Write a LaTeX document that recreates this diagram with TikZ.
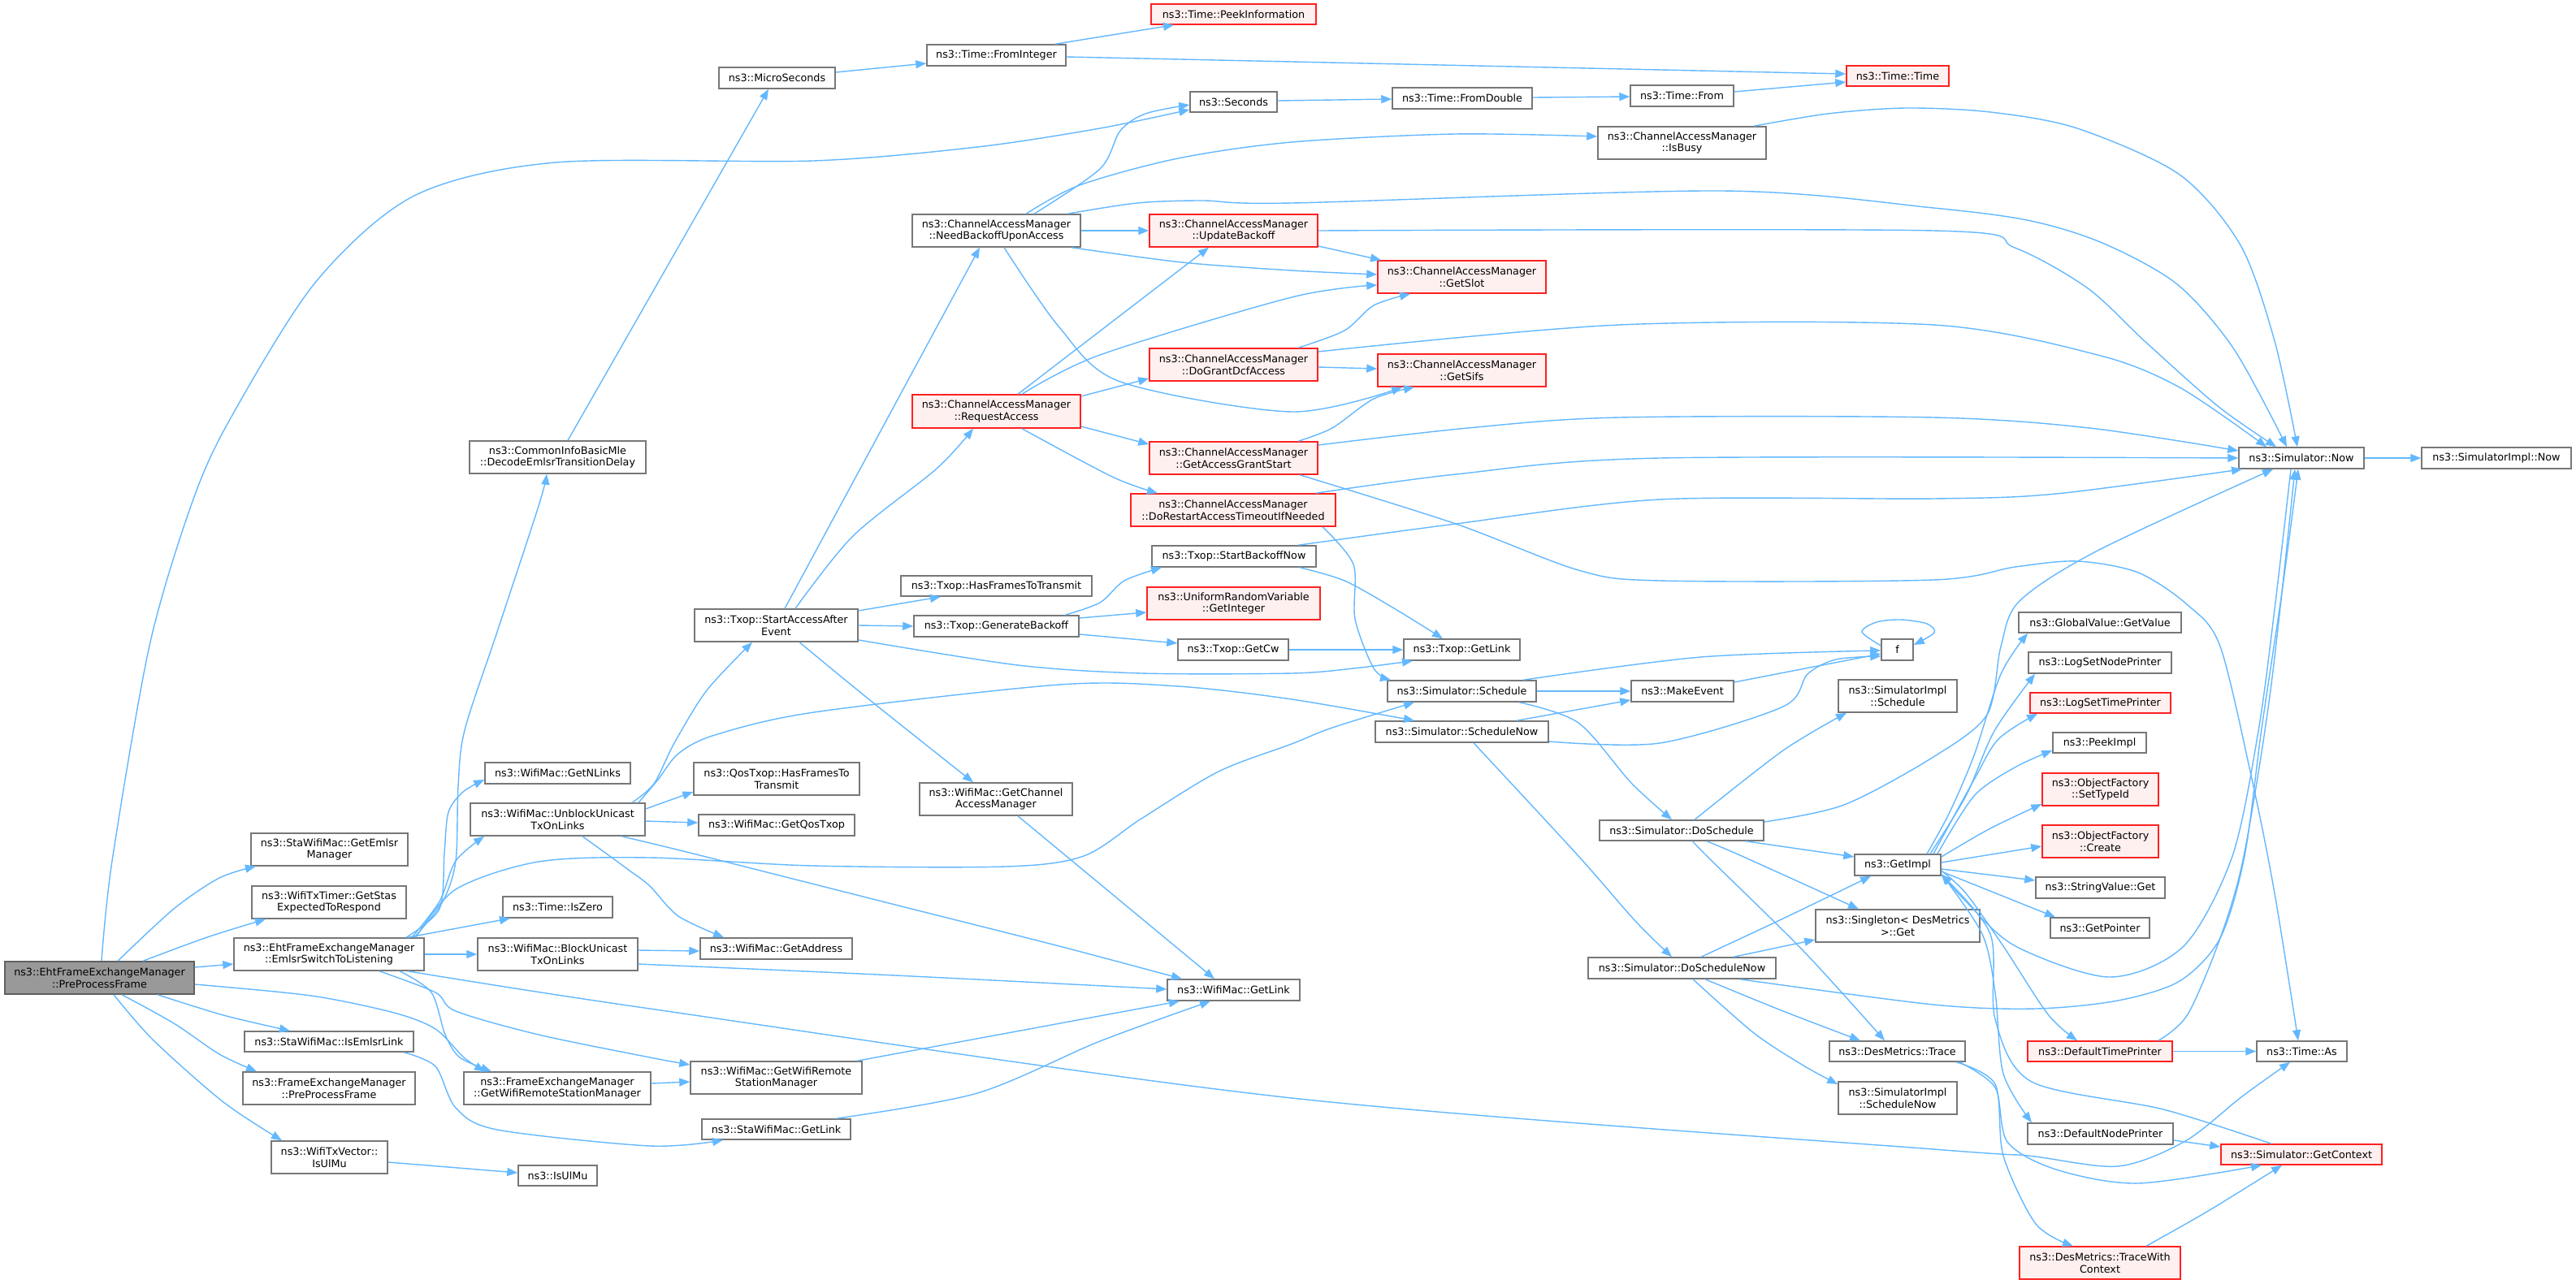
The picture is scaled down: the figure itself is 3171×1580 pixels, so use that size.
\documentclass[tikz,border=0pt]{standalone}
\usepackage{fontspec}
\setmainfont{DejaVu Sans}
\usetikzlibrary{arrows.meta}
\definecolor{edgec}{HTML}{63B8FF}
\definecolor{nodeborder}{HTML}{777777}
\definecolor{redborder}{HTML}{FF2020}
\definecolor{redfill}{HTML}{FFF0F0}
\definecolor{grayfill}{HTML}{999999}
\newcommand\ndbox[7]{%
  \pgfmathsetmacro\ndcx{(#3+#4)/2}%
  \pgfmathsetmacro\ndcy{(#5+#6)/2}%
  \pgfmathsetmacro\ndw{#4-#3}%
  \pgfmathsetmacro\ndh{#6-#5}%
  \node[#2, minimum width=\ndw pt, minimum height=\ndh pt] (#1) at (\ndcx,\ndcy) {#7};%
}
\tikzset{
  nbase/.style={draw=nodeborder, line width=1.5pt, fill=white, inner sep=0pt, align=center,
    font=\fontsize{12.75}{14.8}\selectfont, text=black},
  wn/.style={nbase},
  rn/.style={nbase, draw=redborder, fill=redfill},
  gn/.style={nbase, fill=grayfill, draw=nodeborder!80!black},
  cn/.style={draw=edgec, line width=1.4pt, -{Triangle[length=13pt,width=10pt]}},
}
\begin{document}
\begin{tikzpicture}[x=1pt,y=-1pt]
\fill[white] (0,0) rectangle (3171,1580);
\useasboundingbox (0,0) rectangle (3171,1580);

% ---------- nodes ----------
\ndbox{ppf}{gn}{6}{239}{1184}{1224}{ns3::EhtFrameExchangeManager\\::PreProcessFrame}
\ndbox{gem}{wn}{309}{502}{1026}{1066}{ns3::StaWifiMac::GetEmlsr\\Manager}
\ndbox{gstas}{wn}{310}{500}{1091}{1131}{ns3::WifiTxTimer::GetStas\\ExpectedToRespond}
\ndbox{estl}{wn}{288}{522}{1155}{1195}{ns3::EhtFrameExchangeManager\\::EmlsrSwitchToListening}
\ndbox{iel}{wn}{301}{509}{1270}{1295}{ns3::StaWifiMac::IsEmlsrLink}
\ndbox{fppf}{wn}{299}{511}{1320}{1360}{ns3::FrameExchangeManager\\::PreProcessFrame}
\ndbox{txv}{wn}{334}{477}{1405}{1445}{ns3::WifiTxVector::\\IsUlMu}
\ndbox{isulmu}{wn}{638}{735}{1435}{1460}{ns3::IsUlMu}
\ndbox{dec}{wn}{578}{795}{543}{583}{ns3::CommonInfoBasicMle\\::DecodeEmlsrTransitionDelay}
\ndbox{gnl}{wn}{597}{776}{939}{965}{ns3::WifiMac::GetNLinks}
\ndbox{ubl}{wn}{579}{794}{989}{1029}{ns3::WifiMac::UnblockUnicast\\TxOnLinks}
\ndbox{isz}{wn}{619}{754}{1104}{1130}{ns3::Time::IsZero}
\ndbox{bl}{wn}{588}{785}{1155}{1195}{ns3::WifiMac::BlockUnicast\\TxOnLinks}
\ndbox{fgw}{wn}{571}{801}{1320}{1360}{ns3::FrameExchangeManager\\::GetWifiRemoteStationManager}
\ndbox{mic}{wn}{885}{1028}{83}{109}{ns3::MicroSeconds}
\ndbox{saae}{wn}{855}{1056}{750}{790}{ns3::Txop::StartAccessAfter\\Event}
\ndbox{qhf}{wn}{854}{1058}{939}{979}{ns3::QosTxop::HasFramesTo\\Transmit}
\ndbox{gqt}{wn}{860}{1052}{1003}{1029}{ns3::WifiMac::GetQosTxop}
\ndbox{gaddr}{wn}{862}{1049}{1155}{1181}{ns3::WifiMac::GetAddress}
\ndbox{wgw}{wn}{850}{1061}{1307}{1347}{ns3::WifiMac::GetWifiRemote\\StationManager}
\ndbox{sgl}{wn}{864}{1047}{1378}{1403}{ns3::StaWifiMac::GetLink}
\ndbox{fint}{wn}{1141}{1312}{55}{81}{ns3::Time::FromInteger}
\ndbox{nbua}{wn}{1123}{1330}{264}{304}{ns3::ChannelAccessManager\\::NeedBackoffUponAccess}
\ndbox{ra}{rn}{1123}{1330}{486}{527}{ns3::ChannelAccessManager\\::RequestAccess}
\ndbox{hft}{wn}{1109}{1344}{709}{734}{ns3::Txop::HasFramesToTransmit}
\ndbox{gb}{wn}{1125}{1328}{758}{784}{ns3::Txop::GenerateBackoff}
\ndbox{gcam}{wn}{1132}{1320}{964}{1004}{ns3::WifiMac::GetChannel\\AccessManager}
\ndbox{peek}{rn}{1417}{1620}{5}{30}{ns3::Time::PeekInformation}
\ndbox{sec}{wn}{1465}{1572}{113}{138}{ns3::Seconds}
\ndbox{ub}{rn}{1415}{1622}{264}{304}{ns3::ChannelAccessManager\\::UpdateBackoff}
\ndbox{dg}{rn}{1415}{1622}{429}{469}{ns3::ChannelAccessManager\\::DoGrantDcfAccess}
\ndbox{gags}{rn}{1415}{1622}{544}{584}{ns3::ChannelAccessManager\\::GetAccessGrantStart}
\ndbox{dr}{rn}{1392}{1644}{608}{648}{ns3::ChannelAccessManager\\::DoRestartAccessTimeoutIfNeeded}
\ndbox{sbn}{wn}{1418}{1620}{672}{698}{ns3::Txop::StartBackoffNow}
\ndbox{urv}{rn}{1412}{1625}{723}{763}{ns3::UniformRandomVariable\\::GetInteger}
\ndbox{gcw}{wn}{1450}{1586}{787}{813}{ns3::Txop::GetCw}
\ndbox{wgl}{wn}{1437}{1600}{1206}{1232}{ns3::WifiMac::GetLink}
\ndbox{fdbl}{wn}{1714}{1886}{108}{134}{ns3::Time::FromDouble}
\ndbox{gslot}{rn}{1696}{1903}{321}{361}{ns3::ChannelAccessManager\\::GetSlot}
\ndbox{gsifs}{rn}{1696}{1903}{436}{476}{ns3::ChannelAccessManager\\::GetSifs}
\ndbox{tgl}{wn}{1728}{1871}{787}{813}{ns3::Txop::GetLink}
\ndbox{ss}{wn}{1708}{1891}{838}{864}{ns3::Simulator::Schedule}
\ndbox{ssn}{wn}{1693}{1906}{888}{914}{ns3::Simulator::ScheduleNow}
\ndbox{tfrom}{wn}{2007}{2134}{105}{131}{ns3::Time::From}
\ndbox{busy}{wn}{1967}{2174}{156}{196}{ns3::ChannelAccessManager\\::IsBusy}
\ndbox{mke}{wn}{2008}{2134}{838}{864}{ns3::MakeEvent}
\ndbox{dsch}{wn}{1969}{2171}{1010}{1035}{ns3::Simulator::DoSchedule}
\ndbox{dsn}{wn}{1955}{2186}{1179}{1205}{ns3::Simulator::DoScheduleNow}
\ndbox{ttime}{rn}{2273}{2399}{81}{106}{ns3::Time::Time}
\ndbox{f}{wn}{2316}{2355}{787}{813}{f}
\ndbox{sis}{wn}{2263}{2409}{837}{877}{ns3::SimulatorImpl\\::Schedule}
\ndbox{gimpl}{wn}{2283}{2389}{1052}{1078}{ns3::GetImpl}
\ndbox{sing}{wn}{2235}{2437}{1120}{1160}{ns3::Singleton< DesMetrics\\ >::Get}
\ndbox{trace}{wn}{2252}{2419}{1282}{1307}{ns3::DesMetrics::Trace}
\ndbox{sisn}{wn}{2263}{2409}{1332}{1372}{ns3::SimulatorImpl\\::ScheduleNow}
\ndbox{ggv}{wn}{2485}{2685}{754}{779}{ns3::GlobalValue::GetValue}
\ndbox{lnp}{wn}{2497}{2673}{803}{829}{ns3::LogSetNodePrinter}
\ndbox{ltp}{rn}{2499}{2672}{853}{878}{ns3::LogSetTimePrinter}
\ndbox{pimpl}{wn}{2527}{2642}{902}{927}{ns3::PeekImpl}
\ndbox{oft}{rn}{2514}{2657}{952}{992}{ns3::ObjectFactory\\::SetTypeId}
\ndbox{ofc}{rn}{2514}{2657}{1016}{1056}{ns3::ObjectFactory\\::Create}
\ndbox{sv}{wn}{2506}{2665}{1080}{1106}{ns3::StringValue::Get}
\ndbox{gp}{wn}{2524}{2646}{1130}{1155}{ns3::GetPointer}
\ndbox{dtp}{rn}{2496}{2674}{1282}{1307}{ns3::DefaultTimePrinter}
\ndbox{dnp}{wn}{2496}{2675}{1383}{1409}{ns3::DefaultNodePrinter}
\ndbox{tdc}{rn}{2486}{2684}{1535}{1575}{ns3::DesMetrics::TraceWith\\Context}
\ndbox{now}{wn}{2756}{2910}{551}{577}{ns3::Simulator::Now}
\ndbox{tas}{wn}{2778}{2889}{1282}{1307}{ns3::Time::As}
\ndbox{gctx}{rn}{2734}{2932}{1409}{1434}{ns3::Simulator::GetContext}
\ndbox{simpln}{wn}{2981}{3165}{551}{577}{ns3::SimulatorImpl::Now}

% ---------- edges ----------
% from PreProcessFrame
\draw[cn] plot[smooth] coordinates {(ppf.north -| 125,0) (138,1060) (184,795) (235,623) (281,520) (388,348) (510,241) (684,200) (1001,198) (1203,181) (1354,158) (sec.west |- 0,135)};
\draw[cn] plot[smooth] coordinates {(ppf.north -| 145,0) (214,1119) (270,1081) (gem.south -| 315,0)};
\draw[cn] plot[smooth] coordinates {(ppf.north -| 176,0) (255,1154) (gstas.south -| 327,0)};
\draw[cn] (ppf.east |- 0,1191) -- (estl.west |- 0,1187);
\draw[cn] plot[smooth] coordinates {(ppf.south -| 194,0) (275,1250) (iel.north -| 357,0)};
\draw[cn] plot[smooth] coordinates {(ppf.south -| 150,0) (214,1260) (270,1298) (fppf.north -| 316,0)};
\draw[cn] plot[smooth] coordinates {(ppf.south -| 140,0) (189,1281) (275,1357) (txv.north -| 347,0)};
\draw[cn] plot[smooth] coordinates {(ppf.east |- 0,1212) (383,1226) (485,1247) (536,1267) (571,1302) (fgw.north -| 597,0)};

% from EmlsrSwitchToListening
\draw[cn] plot[smooth] coordinates {(estl.south -| 492,0) (531,1222) (548,1274) (566,1302) (fgw.north -| 605,0)};
\draw[cn] (estl.east) -- (bl.west);
\draw[cn] (estl.north -| 502,0) -- (isz.south -| 628,0);
\draw[cn] plot[smooth] coordinates {(estl.north -| 500,0) (541,1119) (547,1050) (552,1000) (570,975) (gnl.west |- 0,960)};
\draw[cn] plot[smooth] coordinates {(estl.north -| 507,0) (541,1110) (561,1060) (ubl.south -| 596,0)};
\draw[cn] plot[smooth] coordinates {(estl.north -| 510,0) (545,1110) (561,1060) (564,968) (572,899) (612,778) (663,623) (dec.south -| 673,0)};
\draw[cn] plot[smooth] coordinates {(estl.north -| 512,0) (561,1095) (663,1061) (800,1056) (1000,1066) (1238,1067) (1334,1054) (1405,1008) (1500,950) (1590,916) (1640,896) (ss.south -| 1741,0)};
\draw[cn] plot[smooth] coordinates {(estl.south -| 467,0) (536,1222) (561,1245) (663,1274) (800,1302) (wgw.west |- 0,1311)};
\draw[cn] plot[smooth] coordinates {(estl.south -| 502,0) (800,1242) (1590,1352) (2380,1415) (2496,1423) (2607,1436) (2690,1405) (2760,1350) (tas.south -| 2819,0)};

% IsEmlsrLink, TxVector
\draw[cn] plot[smooth] coordinates {(iel.south -| 497,0) (536,1313) (561,1364) (612,1391) (800,1411) (sgl.south -| 890,0)};
\draw[cn] (txv.east |- 0,1431) -- (isulmu.west |- 0,1444);

% UnblockUnicastTxOnLinks
\draw[cn] plot[smooth] coordinates {(ubl.north -| 778,0) (805,965) (830,915) (870,850) (saae.south -| 926,0)};
\draw[cn] plot[smooth] coordinates {(ubl.north -| 786,0) (810,960) (835,928) (880,905) (1002,877) (1304,843) (1450,845) (1590,861) (ssn.north -| 1741,0)};
\draw[cn] (ubl.east |- 0,996) -- (qhf.west |- 0,975);
\draw[cn] (ubl.east |- 0,1011) -- (gqt.west |- 0,1013);
\draw[cn] plot[smooth] coordinates {(ubl.south -| 717,0) (745,1050) (775,1072) (800,1091) (835,1128) (gaddr.north -| 891,0)};
\draw[cn] plot[smooth] coordinates {(ubl.south -| 765,0) (800,1038) (865,1054) (1102,1114) (1304,1165) (wgl.north -| 1455,0)};

% BlockUnicastTxOnLinks, remote station managers, GetLink
\draw[cn] (bl.east |- 0,1170) -- (gaddr.west |- 0,1171);
\draw[cn] plot[smooth] coordinates {(bl.east |- 0,1187) (1102,1201) (wgl.west |- 0,1218)};
\draw[cn] (fgw.east |- 0,1334) -- (wgw.west |- 0,1332);
\draw[cn] (wgw.north -| 1055,0) -- (wgl.south -| 1452,0);
\draw[cn] plot[smooth] coordinates {(sgl.north -| 1029,0) (1203,1346) (1354,1282) (wgl.south -| 1490,0)};
\draw[cn] (gcam.south -| 1253,0) -- (wgl.north -| 1495,0);

% StartAccessAfterEvent
\draw[cn] (saae.north -| 966,0) -- (nbua.south -| 1206,0);
\draw[cn] plot[smooth] coordinates {(saae.north -| 979,0) (1050,660) (1153,577) (ra.south -| 1198,0)};
\draw[cn] (saae.east |- 0,752) -- (hft.south -| 1158,0);
\draw[cn] (saae.east) -- (gb.west);
\draw[cn] plot[smooth] coordinates {(saae.south -| 984,0) (1072,863) (gcam.north -| 1198,0)};
\draw[cn] plot[smooth] coordinates {(saae.east |- 0,788) (1253,819) (1405,829) (1590,829) (1666,823) (tgl.south -| 1739,0)};

% GenerateBackoff, StartBackoffNow, GetCw
\draw[cn] plot[smooth] coordinates {(gb.north -| 1311,0) (1354,742) (1384,715) (sbn.south -| 1430,0)};
\draw[cn] (gb.east |- 0,761) -- (urv.west |- 0,754);
\draw[cn] (gb.east |- 0,781) -- (gcw.west |- 0,792);
\draw[cn] plot[smooth] coordinates {(sbn.south -| 1600,0) (1655,715) (1716,749) (tgl.north -| 1776,0)};
\draw[cn] plot[smooth] coordinates {(sbn.north -| 1598,0) (1792,645) (2043,615) (2380,614) (2531,608) (now.south -| 2760,0)};
\draw[cn] (gcw.east) -- (tgl.west);

% NeedBackoffUponAccess
\draw[cn] (nbua.east) -- (ub.west);
\draw[cn] plot[smooth] coordinates {(nbua.north -| 1273,0) (1354,208) (1379,161) (1410,140) (sec.west |- 0,129)};
\draw[cn] plot[smooth] coordinates {(nbua.north -| 1263,0) (1329,228) (1450,195) (1590,175) (1791,165) (busy.west |- 0,168)};
\draw[cn] plot[smooth] coordinates {(nbua.north -| 1314,0) (1400,250) (1480,247) (1590,250) (2119,235) (2380,256) (2500,272) (2590,300) (2680,350) (2750,430) (now.north -| 2815,0)};
\draw[cn] plot[smooth] coordinates {(nbua.south -| 1319,0) (1455,323) (1590,333) (gslot.west |- 0,338)};
\draw[cn] plot[smooth] coordinates {(nbua.south -| 1236,0) (1304,403) (1379,470) (1590,507) (gsifs.south -| 1726,0)};

% RequestAccess
\draw[cn] (ra.north -| 1253,0) -- (ub.south -| 1488,0);
\draw[cn] plot[smooth] coordinates {(ra.north -| 1258,0) (1354,437) (1590,366) (gslot.west |- 0,351)};
\draw[cn] (ra.east |- 0,488) -- (dg.west |- 0,466);
\draw[cn] (ra.east |- 0,525) -- (gags.west |- 0,547);
\draw[cn] plot[smooth] coordinates {(ra.south -| 1258,0) (1369,587) (dr.north -| 1425,0)};

% UpdateBackoff, DoGrantDcfAccess
\draw[cn] (ub.east |- 0,303) -- (gslot.north -| 1700,0);
\draw[cn] plot[smooth] coordinates {(ub.east) (2380,284) (2480,305) (2570,355) (2640,420) (2730,500) (now.north -| 2802,0)};
\draw[cn] (dg.east |- 0,452) -- (gsifs.west |- 0,454);
\draw[cn] plot[smooth] coordinates {(dg.north -| 1598,0) (1655,407) (1691,376) (gslot.south -| 1736,0)};
\draw[cn] plot[smooth] coordinates {(dg.east |- 0,433) (1993,400) (2380,400) (2582,437) (2683,477) (now.north -| 2790,0)};

% GetAccessGrantStart, DoRestartAccessTimeoutIfNeeded, IsBusy
\draw[cn] plot[smooth] coordinates {(gags.north -| 1598,0) (1640,527) (1691,491) (gsifs.south -| 1741,0)};
\draw[cn] plot[smooth] coordinates {(gags.east |- 0,548) (1807,527) (1993,514) (2380,514) (2572,527) (now.west |- 0,555)};
\draw[cn] plot[smooth] coordinates {(gags.south -| 1600,0) (1792,645) (1943,702) (2043,715) (2380,714) (2481,698) (2557,691) (2632,705) (2693,745) (2733,796) (2773,964) (2800,1100) (tas.north -| 2829,0)};
\draw[cn] plot[smooth] coordinates {(dr.north -| 1620,0) (1792,584) (2043,564) (now.west)};
\draw[cn] plot[smooth] coordinates {(dr.south -| 1628,0) (1666,695) (1668,762) (1691,823) (ss.north -| 1712,0)};
\draw[cn] plot[smooth] coordinates {(busy.north -| 2159,0) (2250,140) (2346,133) (2450,138) (2557,158) (2683,215) (2758,302) (2800,420) (now.north -| 2828,0)};

% Schedule, ScheduleNow, MakeEvent, f
\draw[cn] (ss.east) -- (mke.west);
\draw[cn] plot[smooth] coordinates {(ss.north -| 1875,0) (2094,809) (f.west |- 0,801)};
\draw[cn] (mke.east |- 0,840) -- (f.west |- 0,805);
\draw[cn] plot[smooth] coordinates {(ssn.east |- 0,913) (2043,915) (2195,870) (2225,830) (2260,812) (f.west |- 0,808)};
\draw[cn] plot[smooth] coordinates {(ss.south -| 1870,0) (1943,890) (2008,964) (dsch.north -| 2058,0)};
\draw[cn] (ssn.north -| 1867,0) -- (mke.west |- 0,862);
\draw[cn] plot[smooth] coordinates {(ssn.south -| 1814,0) (1943,1054) (2013,1134) (dsn.north -| 2058,0)};
\draw[cn] plot[smooth] coordinates {(f.west |- 0,795) (2292,778) (2310,766) (2340,763) (2372,768) (2381,779) (f.east |- 0,794)};

% DoSchedule
\draw[cn] plot[smooth] coordinates {(dsch.north -| 2086,0) (2195,924) (sis.south -| 2273,0)};
\draw[cn] (dsch.south -| 2149,0) -- (gimpl.west |- 0,1055);
\draw[cn] plot[smooth] coordinates {(dsch.east |- 0,1012) (2270,991) (2380,932) (2446,880) (2463,796) (2486,740) (2582,678) (now.south -| 2798,0)};
\draw[cn] plot[smooth] coordinates {(dsch.south -| 2101,0) (2144,1054) (sing.north -| 2288,0)};
\draw[cn] plot[smooth] coordinates {(dsch.south -| 2084,0) (2101,1054) (2220,1171) (trace.north -| 2320,0)};

% DoScheduleNow
\draw[cn] plot[smooth] coordinates {(dsn.north -| 2094,0) (2195,1131) (gimpl.south -| 2303,0)};
\draw[cn] (dsn.north -| 2134,0) -- (sing.west |- 0,1157);
\draw[cn] plot[smooth] coordinates {(dsn.south -| 2099,0) (2195,1245) (trace.north -| 2290,0)};
\draw[cn] plot[smooth] coordinates {(dsn.south -| 2084,0) (2159,1272) (2220,1312) (sisn.west |- 0,1335)};
\draw[cn] plot[smooth] coordinates {(dsn.south -| 2142,0) (2380,1237) (2506,1242) (2607,1232) (2683,1208) (2733,1155) (2763,1054) (2784,897) (2809,729) (now.south -| 2829,0)};

% Simulator::Now and GetImpl
\draw[cn] (now.east) -- (simpln.west);
\draw[cn] plot[smooth] coordinates {(now.south -| 2820,0) (2800,750) (2780,900) (2748,1054) (2688,1165) (2597,1203) (2481,1165) (2420,1110) (gimpl.east |- 0,1076)};
\draw[cn] plot[smooth] coordinates {(dtp.north -| 2657,0) (2693,1249) (2733,1155) (2762,1054) (2795,850) (now.south -| 2825,0)};
\draw[cn] (dtp.east) -- (tas.west);
\draw[cn] plot[smooth] coordinates {(gimpl.east |- 0,1072) (2420,1100) (2466,1165) (2521,1249) (dtp.north -| 2557,0)};
\draw[cn] plot[smooth] coordinates {(gimpl.east |- 0,1076) (2440,1150) (2456,1222) (2466,1322) (dnp.north -| 2501,0)};
\draw[cn] (gimpl.east |- 0,1070) -- (sv.west |- 0,1084);
\draw[cn] (gimpl.east |- 0,1073) -- (gp.north -| 2530,0);
\draw[cn] plot[smooth] coordinates {(gimpl.north -| 2372,0) (2400,1000) (2430,930) (2463,830) (ggv.south -| 2496,0)};
\draw[cn] plot[smooth] coordinates {(gimpl.north -| 2376,0) (2420,980) (2455,900) (lnp.south -| 2505,0)};
\draw[cn] plot[smooth] coordinates {(gimpl.north -| 2380,0) (2430,960) (2460,910) (ltp.south -| 2508,0)};
\draw[cn] plot[smooth] coordinates {(gimpl.north -| 2385,0) (2430,980) (2480,945) (pimpl.west |- 0,924)};
\draw[cn] plot[smooth] coordinates {(gimpl.east |- 0,1055) (2450,1020) (oft.west |- 0,990)};
\draw[cn] (gimpl.east |- 0,1062) -- (ofc.west |- 0,1042);
\draw[cn] plot[smooth] coordinates {(gctx.north -| 2796,0) (2663,1366) (2501,1332) (2456,1255) (2450,1150) (gimpl.east |- 0,1077)};

% DesMetrics
\draw[cn] plot[smooth] coordinates {(trace.south -| 2412,0) (2456,1339) (2471,1406) (2531,1440) (2632,1457) (gctx.south -| 2784,0)};
\draw[cn] plot[smooth] coordinates {(trace.south -| 2408,0) (2456,1335) (2466,1423) (2506,1507) (tdc.north -| 2552,0)};
\draw[cn] plot[smooth] coordinates {(tdc.north -| 2642,0) (2720,1490) (gctx.south -| 2809,0)};
\draw[cn] (dnp.east |- 0,1404) -- (gctx.west |- 0,1412);

% Time functions
\draw[cn] (sec.east |- 0,124) -- (fdbl.west |- 0,122);
\draw[cn] (fdbl.east |- 0,120) -- (tfrom.west |- 0,119);
\draw[cn] (tfrom.east |- 0,113) -- (ttime.west |- 0,101);
\draw[cn] plot[smooth] coordinates {(fint.east |- 0,70) (1590,76) (ttime.west |- 0,91)};
\draw[cn] (fint.north -| 1299,0) -- (peek.south -| 1445,0);
\draw[cn] (mic.east |- 0,89) -- (fint.west |- 0,78);
\draw[cn] (dec.north -| 699,0) -- (mic.south -| 946,0);
\end{tikzpicture}
\end{document}
